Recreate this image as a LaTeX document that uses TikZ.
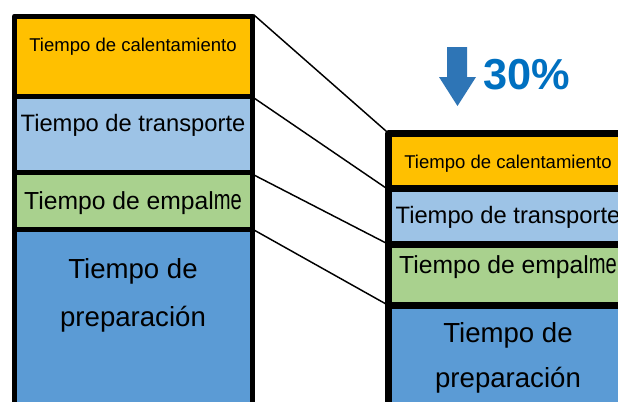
\documentclass[tikz,border=0pt]{standalone}
\usepackage{fontspec}
\usepackage{graphicx}
\setmainfont{Liberation Sans}

\definecolor{calor}{HTML}{FFC000}
\definecolor{transp}{HTML}{9DC3E6}
\definecolor{empal}{HTML}{A9D18E}
\definecolor{prep}{HTML}{5B9BD5}
\definecolor{flecha}{HTML}{2E75B6}
\definecolor{porc}{HTML}{0070C0}

\newcommand{\grandeme}{\scalebox{0.72}[1]{\fontsize{21}{21}\selectfont me}}

\tikzset{
  cajaizq/.style={draw=black, line width=3.75pt},
  cajader/.style={draw=black, line width=5.25pt},
  enlace/.style={black, line width=1.1pt},
  rotulo/.style={anchor=base, inner sep=0pt, text=black}
}

\begin{document}
\begin{tikzpicture}[x=0.75pt, y=-0.75pt, line join=round, line cap=round]

            \clip (0,0) rectangle (618,401);

            % Columna de la izquierda (antes)
            \foreach \ya/\yb/\col in {16/96/calor, 96/172/transp, 172/229/empal, 229/440/prep} {
                \draw[cajaizq, fill=\col] (14.5,\ya) rectangle (252.5,\yb);
            }

            % Columna de la derecha (despues)
            \foreach \ya/\yb/\col in {133.5/188.5/calor, 188.5/244/transp, 244/305.5/empal, 305.5/440/prep} {
                \draw[cajader, fill=\col] (388.5,\ya) rectangle (631,\yb);
            }

            % Esquinas para los enlaces
            \coordinate (A1) at (254,15);
            \coordinate (A2) at (254,98);
            \coordinate (A3) at (254,175);
            \coordinate (A4) at (254,230);
            \coordinate (B1) at (386,131);
            \coordinate (B2) at (386,188);
            \coordinate (B3) at (386,243);
            \coordinate (B4) at (386,304);

            \draw[enlace] (A1) -- (B1);
            \draw[enlace] (A2) -- (B2);
            \draw[enlace] (A3) -- (B3);
            \draw[enlace] (A4) -- (B4);

            % Textos de la izquierda
            \node[rotulo, font=\fontsize{13.9}{16}\selectfont] (calIzq) at (133,51) {Tiempo de calentamiento};
            \node[rotulo, font=\fontsize{17.8}{20}\selectfont] (traIzq) at (133,131) {Tiempo de transporte};
            \node[rotulo, font=\fontsize{18.5}{21}\selectfont] (empIzq) at (133,209) {Tiempo de empal\grandeme};
            \node[rotulo, font=\fontsize{20.7}{24}\selectfont] (preIzq1) at (133,278) {Tiempo de};
            \node[rotulo, font=\fontsize{20.7}{24}\selectfont] (preIzq2) at (133,326) {preparación};

            % Textos de la derecha
            \node[rotulo, font=\fontsize{13.9}{16}\selectfont] (calDer) at (508,168) {Tiempo de calentamiento};
            \node[rotulo, font=\fontsize{17.8}{20}\selectfont] (traDer) at (508,223) {Tiempo de transporte};
            \node[rotulo, font=\fontsize{18.5}{21}\selectfont] (empDer) at (508,273) {Tiempo de empal\grandeme};
            \node[rotulo, font=\fontsize{20.7}{24}\selectfont] (preDer1) at (508,342) {Tiempo de};
            \node[rotulo, font=\fontsize{20.7}{24}\selectfont] (preDer2) at (508,387) {preparación};

            % Flecha de reduccion
            \fill[flecha] (447,47) -- (467,47) -- (467,77) -- (476,77) -- (457.5,106) -- (439,77) -- (447,77) -- cycle;
            \node[anchor=base west, inner sep=0pt, text=porc, font=\fontsize{32.5}{36}\selectfont\bfseries] (reduccion) at (483,89) {30\%};

        \end{tikzpicture}
\end{document}
